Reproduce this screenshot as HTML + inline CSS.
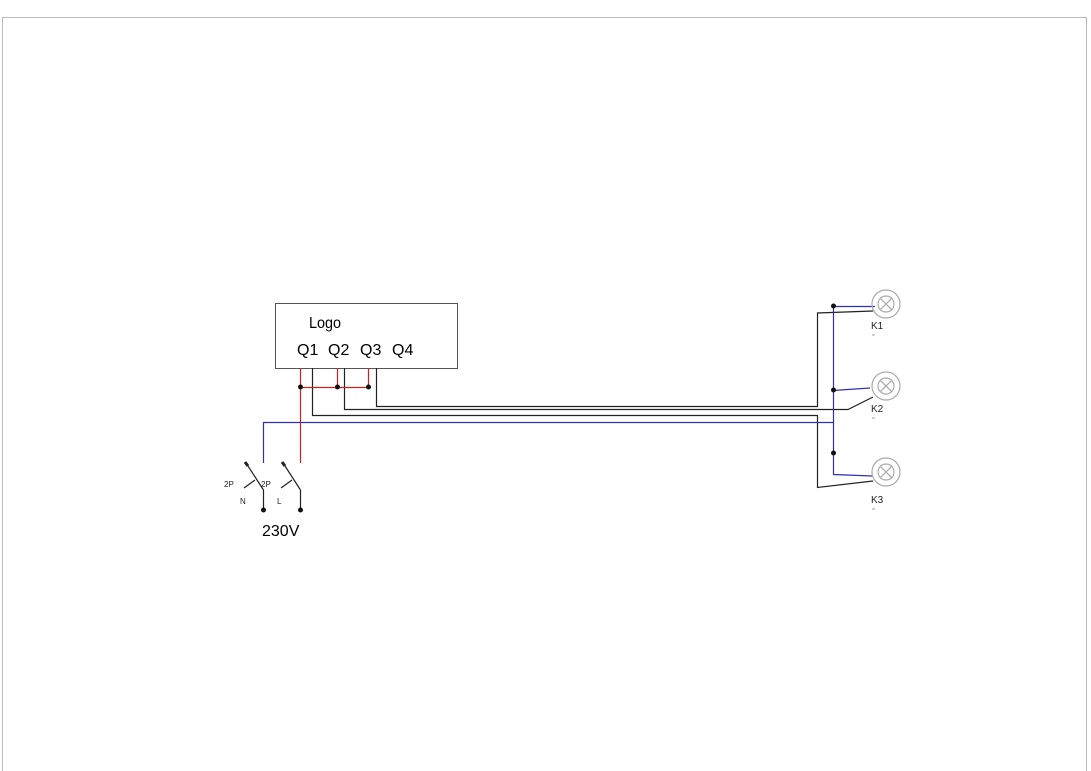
<!DOCTYPE html>
<html><head><style>
html,body{margin:0;padding:0;background:#fff;}
svg{display:block;}
text{font-family:"Liberation Sans",sans-serif;}
</style></head><body>
<svg width="1091" height="771" viewBox="0 0 1091 771" xmlns="http://www.w3.org/2000/svg">
<rect x="2.5" y="17.5" width="1084" height="760" fill="none" stroke="#bbb" stroke-width="1"/>
<rect x="275.5" y="303.5" width="182" height="65" fill="none" stroke="#555" stroke-width="1"/>
<text x="309" y="328" font-size="16" transform="translate(309 0) scale(0.9 1) translate(-309 0)">Logo</text>
<text x="297" y="355" font-size="16">Q1</text>
<text x="328" y="355" font-size="16">Q2</text>
<text x="360" y="355" font-size="16">Q3</text>
<text x="392" y="355" font-size="16">Q4</text>
<g fill="none" stroke-width="1.2">
<!-- black -->
<path d="M312.5 368V415.5H817.5V487.5L873 481" stroke="#222"/>
<path d="M344.5 368V409.5H848L873 397" stroke="#222"/>
<path d="M376.5 368V406.5H817.5V313L873 311" stroke="#222"/>
<!-- red -->
<path d="M300.5 368V463M337.5 368V387M368.5 368V387" stroke="#d02020"/>
<line x1="300" y1="387.5" x2="368" y2="387.5" stroke="#d02020"/>
<!-- blue -->
<path d="M263.5 463V422.5H833.5" stroke="#3030b0"/>
<path d="M833.5 306V474.5L872 476M833 306.5H875M833 390.5L870 388" stroke="#3030b0"/>
<!-- switches -->
<path d="M263.5 490V510M263.5 490L248 466M255 480L244 488" stroke="#222"/>
<path d="M300.5 490V510M300.5 490L285 466M292 480L281 488" stroke="#222"/>
<path d="M248 466L245 462M285 466L282 462" stroke="#222" stroke-width="3"/>
<!-- lamps -->
<g stroke="#aaa">
<circle cx="886" cy="304" r="14"/><circle cx="886" cy="304" r="8"/>
<path d="M880.3 298.3l11.4 11.4M891.7 298.3l-11.4 11.4"/>
<circle cx="886" cy="386" r="14"/><circle cx="886" cy="386" r="8"/>
<path d="M880.3 380.3l11.4 11.4M891.7 380.3l-11.4 11.4"/>
<circle cx="886" cy="472" r="14"/><circle cx="886" cy="472" r="8"/>
<path d="M880.3 466.3l11.4 11.4M891.7 466.3l-11.4 11.4"/>
</g>
</g>
<g fill="#111">
<circle cx="300.5" cy="387" r="2.5"/><circle cx="337.5" cy="387" r="2.5"/><circle cx="368.5" cy="387" r="2.5"/>
<circle cx="833.5" cy="306" r="2.5"/><circle cx="833.5" cy="390" r="2.5"/><circle cx="833.5" cy="453" r="2.5"/>
<circle cx="263.5" cy="510" r="2.5"/><circle cx="300.5" cy="510" r="2.5"/>
</g>
<g font-size="8" fill="#222">
<text x="224" y="487">2P</text><text x="261" y="487">2P</text>
<text x="240" y="504">N</text><text x="277" y="504">L</text>
</g>
<text x="262" y="536" font-size="16">230V</text>
<g font-size="10" fill="#222">
<text x="871" y="329">K1</text><text x="871" y="412">K2</text><text x="871" y="503">K3</text>
</g>
<g font-size="4" fill="#888">
<text x="872" y="336">w</text><text x="872" y="419">w</text><text x="872" y="510">w</text>
</g>
</svg>
</body></html>
